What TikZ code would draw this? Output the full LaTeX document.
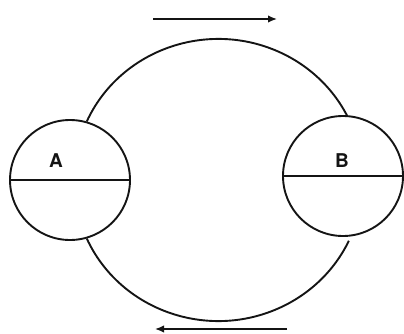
\documentclass[tikz,border=0pt]{standalone}
\usepackage{fontspec}
\setsansfont{TeX Gyre Heros}
\usetikzlibrary{arrows.meta,backgrounds}
\definecolor{lpInk}{HTML}{141414}
\tikzset{
  >={Latex[length=9pt,width=7.5pt]},
  pot/.style={circle, draw=lpInk, line width=1.9pt, fill=white,
              minimum size=120pt, inner sep=0pt},
  tag/.style={font=\sffamily\bfseries\fontsize{19}{19}\selectfont,
              text=lpInk, inner sep=0pt},
  pipe/.style={draw=lpInk, line width=1.9pt},
  flow/.style={->, draw=lpInk, line width=1.5pt},
}

\begin{document}
\begin{tikzpicture}[x=1pt,y=1pt]
  \useasboundingbox (0,0) rectangle (404,333);
  % the two vessels, each split across the middle
  \node[pot] (A) at (70,153) {};
  \node[pot] (B) at (343,157) {};
  \draw[pipe] (A.west) -- (A.east);
  \draw[pipe] (B.west) -- (B.east);
  \node[tag] (la) at (56,172) {A};
  \node[tag] (lb) at (342,172) {B};
  % loop joining them, upper and lower half
  \begin{scope}[on background layer]
    \draw[pipe] (A.74) arc[start angle=156,end angle=25,x radius=144pt,y radius=139pt];
    \draw[pipe] (A.-74) arc[start angle=204,end angle=335,x radius=144pt,y radius=139pt];
  \end{scope}
  % direction of flow
  \coordinate (t0) at (153,314);
  \coordinate (t1) at (277,314);
  \coordinate (b0) at (287,4);
  \coordinate (b1) at (155,4);
  \draw[flow] (t0) -- (t1);
  \draw[flow] (b0) -- (b1);
\end{tikzpicture}
\end{document}
